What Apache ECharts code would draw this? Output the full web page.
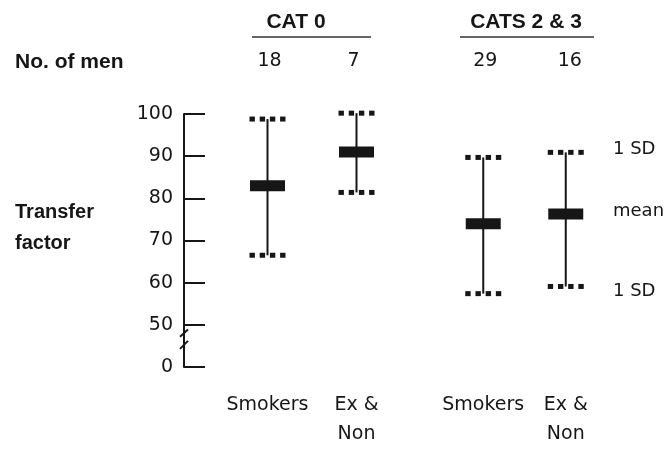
<!DOCTYPE html>
<html>
<head>
<meta charset="utf-8">
<script src="https://cdn.jsdelivr.net/npm/echarts@6/dist/echarts.min.js"></script>
<style>
  html, body { margin: 0; padding: 0; background: #fff; }
  #chart { width: 670px; height: 449px; }
</style>
</head>
<body>
<div id="chart"></div>
<script>
// Transfer factor by smoking status, mean with ±1 SD
const groups = ['CAT 0', 'CATS 2 & 3'];
const categories = ['Smokers', 'Ex &\nNon'];
const menCounts = [18, 7, 29, 16];
const means = [83, 91, 74, 76.3];
const upperSD = [98.8, 100.2, 89.7, 90.9];
const lowerSD = [66.5, 81.4, 57.4, 59.1];
const yTicks = [40, 50, 60, 70, 80, 90, 100];   // 40 is shown as the broken-axis "0"

const INK = '#161616';
const FONT = 'DejaVu Sans';
const BOLD = 'Liberation Sans';
const GRID_LEFT = 223;
const AXIS_OFFSET = 39;

function seriesData(g) {
  return [0, 1].map(i => {
    const k = g * 2 + i;
    return [i, lowerSD[k], means[k], upperSD[k]];
  });
}

function renderItem(params, api) {
  const x = api.value(0);
  const lo = api.coord([x, api.value(1)]);
  const mid = api.coord([x, api.value(2)]);
  const hi = api.coord([x, api.value(3)]);
  const cx = lo[0];
  const children = [
    { type: 'line', shape: { x1: cx, y1: hi[1], x2: cx, y2: lo[1] }, style: { stroke: INK, lineWidth: 2 } },
    { type: 'rect', shape: { x: cx - 17.5, y: mid[1] - 5.5, width: 35, height: 11 }, style: { fill: INK } }
  ];
  [hi[1], lo[1]].forEach(y => {
    for (let k = 0; k < 4; k++) {
      children.push({ type: 'rect', shape: { x: cx - 18 + k * 10.2, y: y - 2.5, width: 5.4, height: 5 }, style: { fill: INK } });
    }
  });
  return { type: 'group', children };
}

const xAxisBase = {
  type: 'category',
  data: categories,
  axisLine: { show: false },
  axisTick: { show: false },
  axisLabel: { fontFamily: FONT, fontSize: 19, color: INK, lineHeight: 29, margin: 24, interval: 0 }
};

const chart = echarts.init(document.getElementById('chart'), null, { renderer: 'canvas' });
chart.setOption({
  backgroundColor: '#fff',
  animation: false,
  grid: [
    { left: GRID_LEFT, right: 269, top: 114, bottom: 78 },
    { left: 442, right: 63, top: 114, bottom: 78 }
  ],
  xAxis: [
    Object.assign({ gridIndex: 0 }, xAxisBase),
    Object.assign({ gridIndex: 1 }, xAxisBase)
  ],
  yAxis: [
    {
      gridIndex: 0, type: 'value', min: yTicks[0], max: yTicks[yTicks.length - 1], interval: 10,
      offset: AXIS_OFFSET,
      splitLine: { show: false },
      axisLine: { show: true, lineStyle: { color: INK, width: 2 } },
      axisTick: { show: true, inside: true, length: 21, lineStyle: { color: INK, width: 2 } },
      axisLabel: {
        fontFamily: FONT, fontSize: 19, color: INK, margin: 11,
        formatter: v => (v === yTicks[0] ? '0' : String(v))
      }
    },
    {
      gridIndex: 1, type: 'value', min: yTicks[0], max: yTicks[yTicks.length - 1], interval: 10,
      show: false, splitLine: { show: false }
    }
  ],
  series: [0, 1].map(g => ({
    type: 'custom',
    xAxisIndex: g,
    yAxisIndex: g,
    clip: false,
    encode: { x: 0, y: [1, 2, 3] },
    data: seriesData(g),
    renderItem
  }))
});

// Header, side labels and the axis break, placed from the axes' own scales
const graphics = [];
const txt = (x, y, text, opts) => graphics.push(Object.assign({
  type: 'text', x, y,
  style: Object.assign({ text, fill: INK, font: '19px "' + FONT + '"', textAlign: 'left', textVerticalAlign: 'middle' }, opts || {})
}));
const boldFont = size => 'bold ' + size + 'px "' + BOLD + '"';

const barX = [];
[0, 1].forEach(g => [0, 1].forEach(i => {
  barX.push(chart.convertToPixel({ xAxisIndex: g }, i));
}));

menCounts.forEach((n, k) => txt(barX[k] + [2, -3, 2, 4][k], 61, String(n), { textAlign: 'center' }));

txt(15, 62, 'No. of men', { font: boldFont(21) });
txt(15, 212, 'Transfer', { font: boldFont(20) });
txt(15, 243, 'factor', { font: boldFont(20) });

// group titles with rules beneath
const groupTitleX = [296, 526];
const ruleSpan = [[252, 371], [460, 594]];
groups.forEach((name, g) => {
  txt(groupTitleX[g], 22, name, { textAlign: 'center', font: boldFont(21) });
  graphics.push({
    type: 'line',
    shape: { x1: ruleSpan[g][0], y1: 37, x2: ruleSpan[g][1], y2: 37 },
    style: { stroke: '#333', lineWidth: 1.6 }
  });
});

txt(613, 149, '1 SD', { font: '18px "' + FONT + '"' });
txt(613, 211, 'mean', { font: '18px "' + FONT + '"' });
txt(613, 291, '1 SD', { font: '18px "' + FONT + '"' });

// axis break between 0 and 50
const axisX = GRID_LEFT - AXIS_OFFSET;
const y50 = chart.convertToPixel({ yAxisIndex: 0 }, 50);
const y0 = chart.convertToPixel({ yAxisIndex: 0 }, 40);
const span = y0 - y50;
graphics.push({
  type: 'rect',
  shape: { x: axisX - 3, y: y50 + span * 0.17, width: 6, height: span * 0.32 },
  style: { fill: '#fff' }
});
graphics.push({
  type: 'line',
  shape: { x1: axisX - 4, y1: y50 + span * 0.28, x2: axisX + 4, y2: y50 + span * 0.11 },
  style: { stroke: INK, lineWidth: 2 }
});
graphics.push({
  type: 'line',
  shape: { x1: axisX - 4, y1: y50 + span * 0.57, x2: axisX + 4, y2: y50 + span * 0.38 },
  style: { stroke: INK, lineWidth: 2 }
});

chart.setOption({ graphic: graphics });
</script>
</body>
</html>
